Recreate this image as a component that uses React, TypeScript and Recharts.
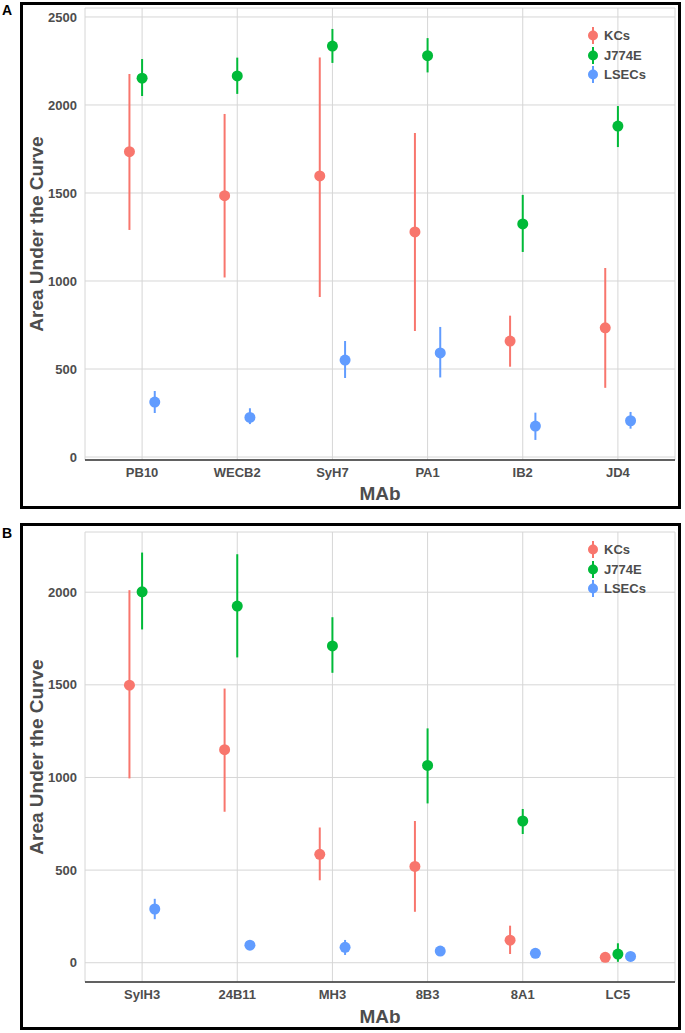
import {
  ScatterChart,
  Scatter,
  XAxis,
  YAxis,
  CartesianGrid,
  ErrorBar,
  Legend,
  Label,
} from "recharts";

// Panel A
const mabA = ["PB10", "WECB2", "SyH7", "PA1", "IB2", "JD4"];
const kcsA = [1735, 1485, 1597, 1279, 659, 734];
const kcsALow = [1290, 1020, 909, 716, 513, 393];
const kcsAHigh = [2176, 1949, 2270, 1841, 803, 1074];
const j774eA = [2152, 2165, 2335, 2280, 1324, 1880];
const j774eALow = [2051, 2063, 2239, 2185, 1165, 1761];
const j774eAHigh = [2261, 2269, 2432, 2380, 1489, 1994];
const lsecsA = [312, 225, 551, 591, 176, 206];
const lsecsALow = [250, 187, 449, 452, 97, 161];
const lsecsAHigh = [375, 277, 659, 739, 252, 256];
const yTicksA = [0, 500, 1000, 1500, 2000, 2500];

// Panel B
const mabB = ["SylH3", "24B11", "MH3", "8B3", "8A1", "LC5"];
const kcsB = [1498, 1150, 585, 520, 122, 29];
const kcsBLow = [995, 815, 445, 275, 47, 18];
const kcsBHigh = [2011, 1480, 730, 765, 200, 38];
const j774eB = [2002, 1925, 1710, 1065, 765, 47];
const j774eBLow = [1799, 1648, 1565, 860, 695, 5];
const j774eBHigh = [2214, 2205, 1865, 1265, 830, 105];
const lsecsB = [290, 95, 83, 63, 51, 34];
const lsecsBLow = [235, 85, 42, 38, 38, 24];
const lsecsBHigh = [345, 105, 123, 90, 65, 44];
const yTicksB = [0, 500, 1000, 1500, 2000];

const xTicks = [1, 2, 3, 4, 5, 6];

const SERIES = [
  { name: "KCs", color: "#F8766D" },
  { name: "J774E", color: "#00BA38" },
  { name: "LSECs", color: "#619CFF" },
];
// dodge offsets, in category units
const DODGE = [-0.133, 0, 0.133];

const GREY = "#4d4d4d";

function buildRows(mean: number[], low: number[], high: number[], k: number) {
  return mean.map((m, i) => ({
    x: i + 1 + DODGE[k],
    y: m,
    err: [m - low[i], high[i] - m],
  }));
}

const LegendKeys = () => (
  <div>
    {SERIES.map((s) => (
      <div
        key={s.name}
        style={{ display: "flex", alignItems: "center", height: 19.5 }}
      >
        <svg width={12} height={19}>
          <line x1={6} x2={6} y1={1} y2={18} stroke={s.color} strokeWidth={2} />
          <circle cx={6} cy={9.5} r={5} fill={s.color} />
        </svg>
        <span
          style={{
            marginLeft: 5,
            fontSize: 13,
            fontWeight: "bold",
            color: GREY,
          }}
        >
          {s.name}
        </span>
      </div>
    ))}
  </div>
);

interface PanelProps {
  mabs: string[];
  means: number[][];
  lows: number[][];
  highs: number[][];
  yDomain: [number, number];
  yTicks: number[];
  top: number;
  xAxisHeight: number;
  legendTop: number;
  titleDy: number;
}

function Panel({
  mabs,
  means,
  lows,
  highs,
  yDomain,
  yTicks,
  top,
  xAxisHeight,
  legendTop,
  titleDy,
}: PanelProps) {
  return (
    <ScatterChart
      width={655}
      height={501}
      margin={{ top, right: 3, left: 0, bottom: 0 }}
    >
      <CartesianGrid stroke="#d6d6d6" strokeWidth={1} />
      <XAxis
        type="number"
        dataKey="x"
        domain={[0.4, 6.6]}
        ticks={xTicks}
        allowDataOverflow
        height={xAxisHeight}
        tickFormatter={(v: number) => mabs[v - 1]}
        tickLine={false}
        axisLine={{ stroke: "#333", strokeWidth: 1.5 }}
        tick={{ fontSize: 13, fontWeight: "bold", fill: GREY }}
        interval={0}
      >
        <Label
          content={({ viewBox }: any) => (
            <text
              x={viewBox.x + viewBox.width / 2}
              y={viewBox.y + titleDy}
              textAnchor="middle"
              dominantBaseline="central"
              fontSize={19}
              fontWeight="bold"
              fill={GREY}
            >
              MAb
            </text>
          )}
        />
      </XAxis>
      <YAxis
        type="number"
        dataKey="y"
        domain={yDomain}
        ticks={yTicks}
        allowDataOverflow
        width={62}
        tickLine={false}
        axisLine={false}
        tick={{ fontSize: 13, fontWeight: "bold", fill: GREY }}
      >
        <Label
          content={({ viewBox }: any) => {
            const cx = viewBox.x + 13;
            const cy = viewBox.y + viewBox.height / 2;
            return (
              <text
                x={cx}
                y={cy}
                transform={`rotate(-90 ${cx} ${cy})`}
                textAnchor="middle"
                dominantBaseline="central"
                fontSize={19}
                fontWeight="bold"
                fill={GREY}
              >
                Area Under the Curve
              </text>
            );
          }}
        />
      </YAxis>
      <Legend
        layout="vertical"
        align="center"
        verticalAlign="middle"
        content={<LegendKeys />}
        wrapperStyle={{ left: 564, top: legendTop, width: "auto", height: "auto" }}
      />
      {SERIES.map((s, k) => (
        <Scatter
          key={s.name}
          name={s.name}
          data={buildRows(means[k], lows[k], highs[k], k)}
          fill={s.color}
          isAnimationActive={false}
          shape={(p: any) => (
            <circle cx={p.cx} cy={p.cy} r={5.5} fill={s.color} />
          )}
        >
          <ErrorBar
            dataKey="err"
            direction="y"
            width={0}
            stroke={s.color}
            strokeWidth={2}
            isAnimationActive={false}
          />
        </Scatter>
      ))}
    </ScatterChart>
  );
}

const boxStyle = {
  position: "absolute" as const,
  left: 20,
  width: 655,
  height: 501,
  border: "3px solid #000",
};

const tagStyle = {
  position: "absolute" as const,
  left: 2,
  fontSize: 14,
  lineHeight: "14px",
  fontWeight: "bold" as const,
  color: "#000",
};

export default function App() {
  return (
    <div
      style={{
        position: "absolute",
        left: 0,
        top: 0,
        width: 685,
        height: 1033,
        background: "#fff",
        fontFamily: '"Liberation Sans", Arial, sans-serif',
      }}
    >
      <div style={{ ...tagStyle, top: 3 }}>A</div>
      <div style={{ ...boxStyle, top: 2 }}>
        <Panel
          mabs={mabA}
          means={[kcsA, j774eA, lsecsA]}
          lows={[kcsALow, j774eALow, lsecsALow]}
          highs={[kcsAHigh, j774eAHigh, lsecsAHigh]}
          yDomain={[-17, 2551]}
          yTicks={yTicksA}
          top={3}
          xAxisHeight={46}
          legendTop={21}
          titleDy={33}
        />
      </div>
      <div style={{ ...tagStyle, top: 526 }}>B</div>
      <div style={{ ...boxStyle, top: 523 }}>
        <Panel
          mabs={mabB}
          means={[kcsB, j774eB, lsecsB]}
          lows={[kcsBLow, j774eBLow, lsecsBLow]}
          highs={[kcsBHigh, j774eBHigh, lsecsBHigh]}
          yDomain={[-104, 2325]}
          yTicks={yTicksB}
          top={6}
          xAxisHeight={45}
          legendTop={14}
          titleDy={34}
        />
      </div>
    </div>
  );
}
